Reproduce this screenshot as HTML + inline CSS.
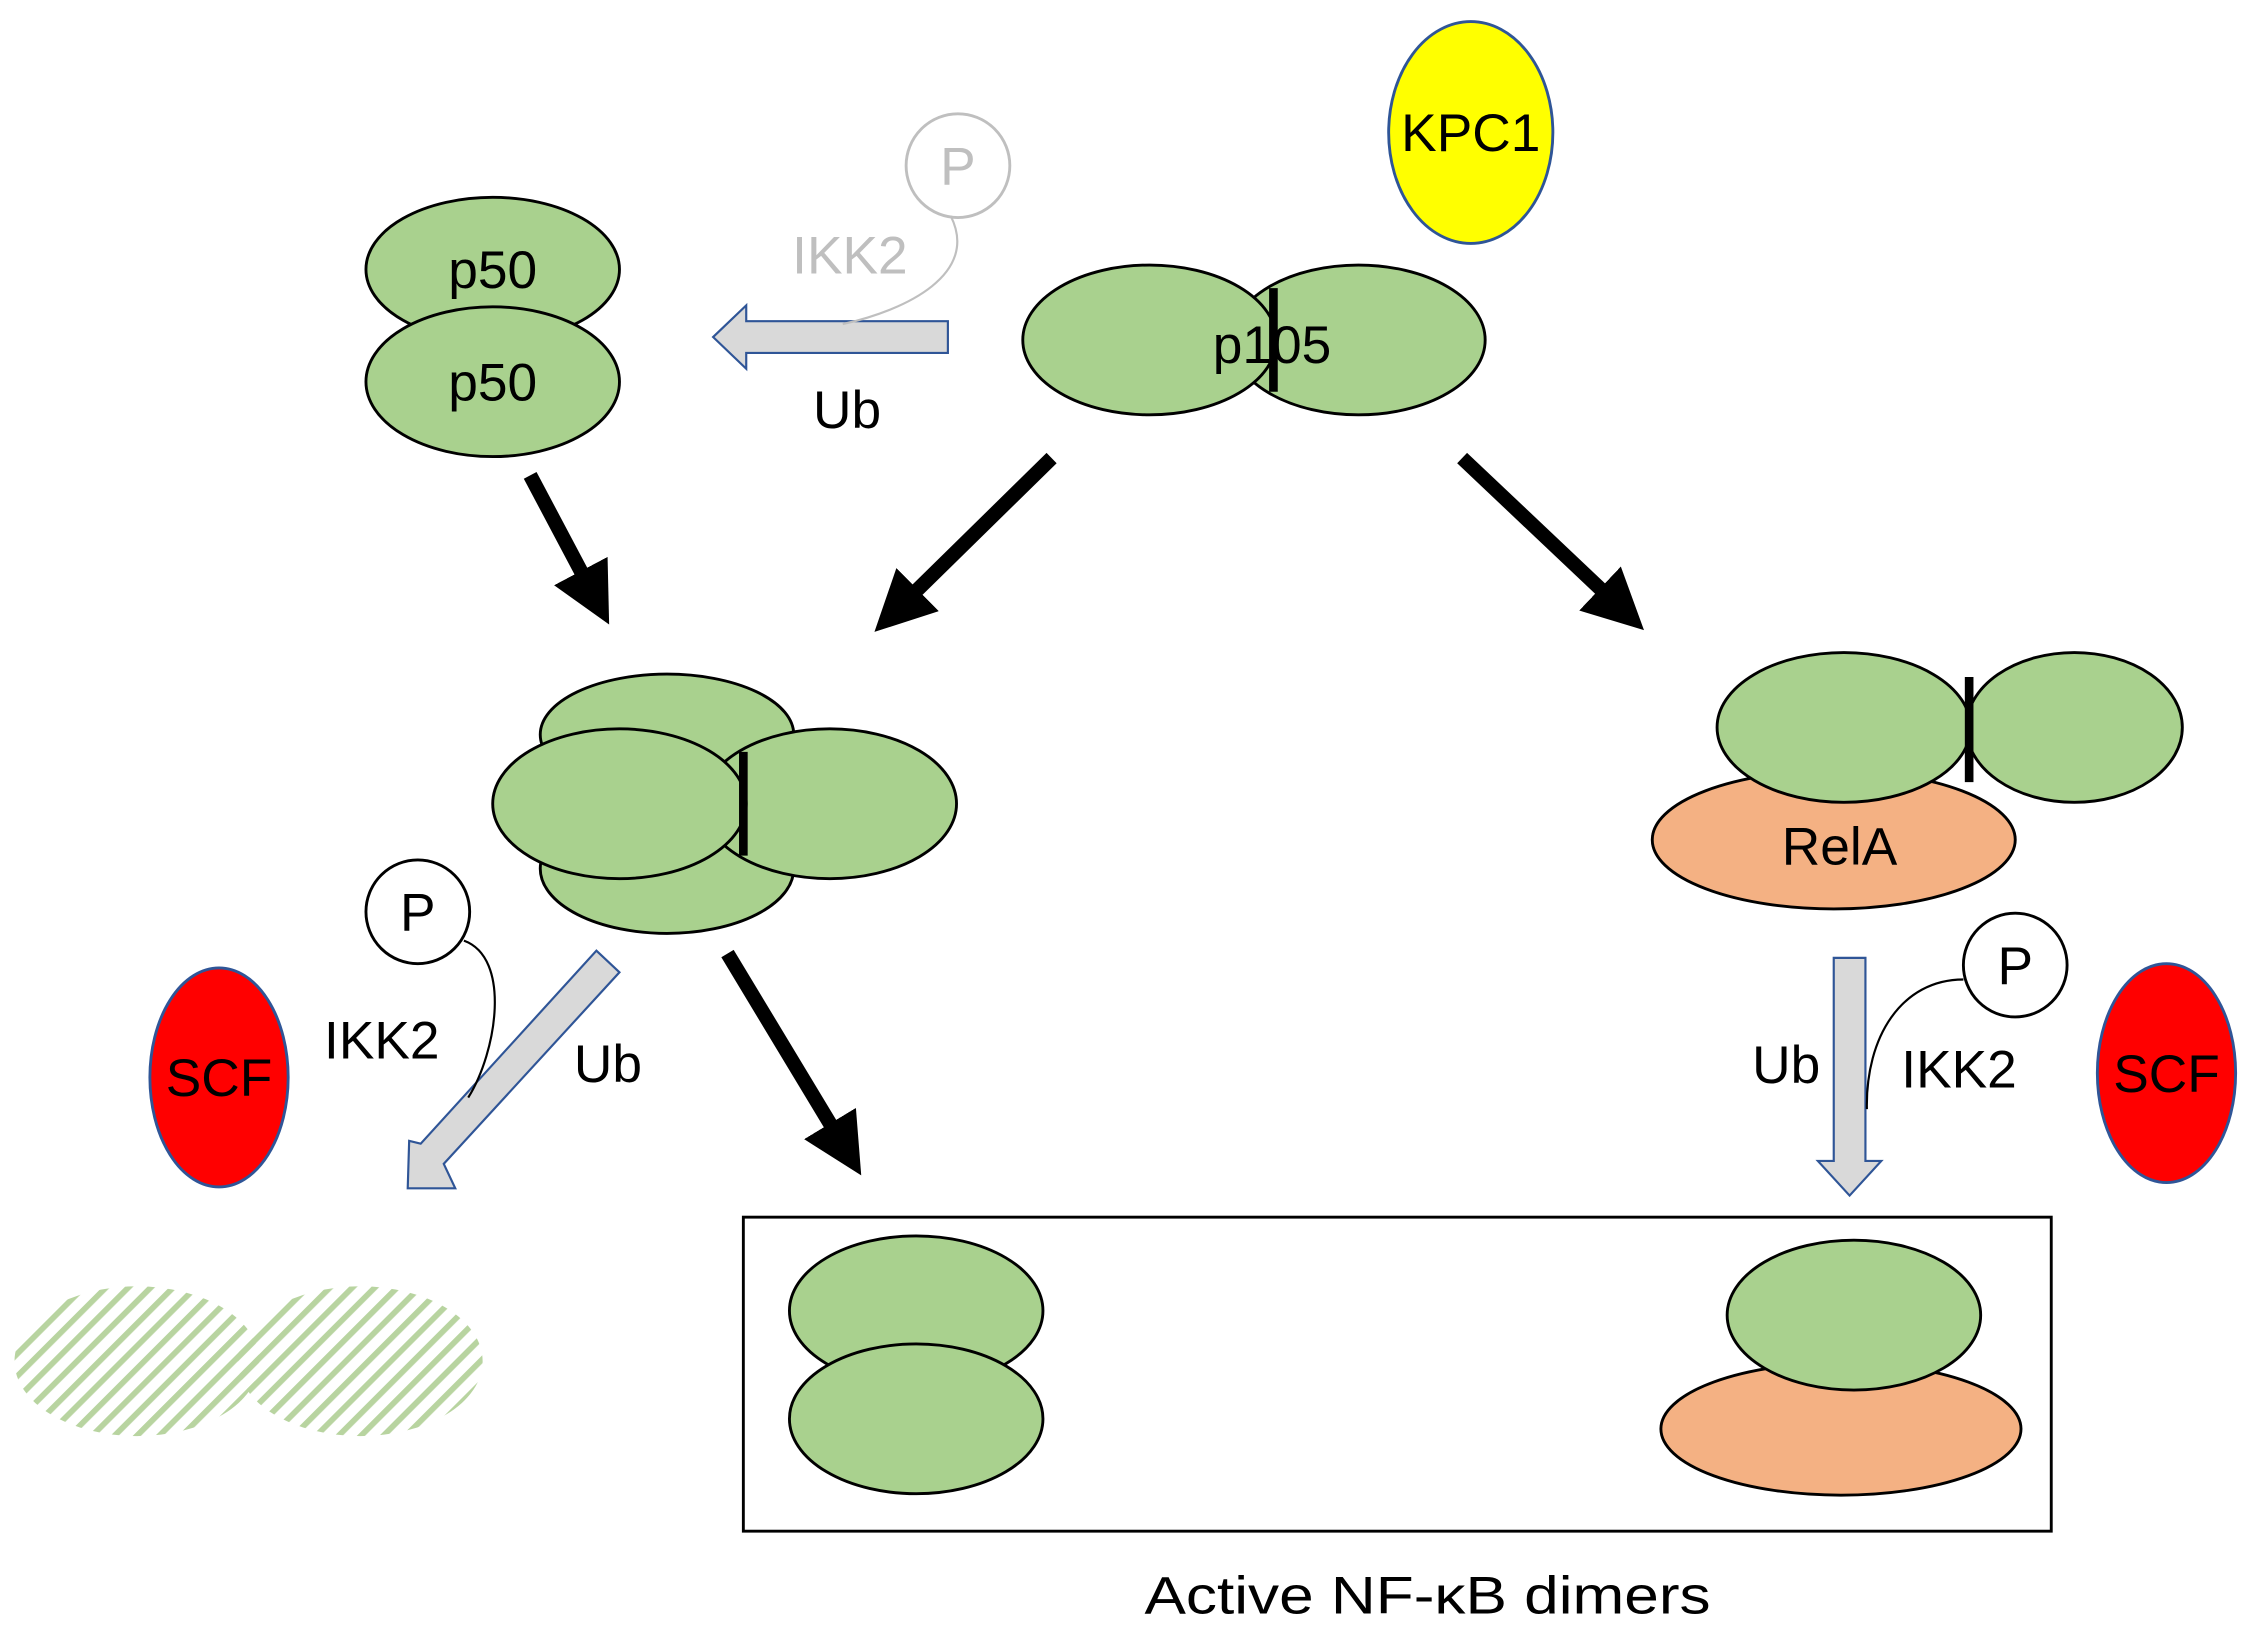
<!DOCTYPE html>
<html><head><meta charset="utf-8"><style>html,body{margin:0;padding:0;background:#fff}svg{display:block}</style></head><body>
<svg width="2253" height="1632" viewBox="0 0 1564 1133" xmlns="http://www.w3.org/2000/svg" font-family="Liberation Sans, sans-serif">
<defs>
<marker id="ah" markerWidth="4.2" markerHeight="4.2" refX="2.1" refY="2.1" orient="auto" markerUnits="strokeWidth"><path d="M0,0 L4.2,2.1 L0,4.2 z" fill="#000"/></marker>
<pattern id="hatch" width="11" height="11" patternUnits="userSpaceOnUse" patternTransform="rotate(-45)"><rect width="11" height="4" fill="#b8d4a0"/></pattern>
</defs>
<g stroke="#000" stroke-width="2" fill="#a9d18e">
<ellipse cx="342" cy="187" rx="88" ry="50"/>
<ellipse cx="342" cy="265" rx="88" ry="52"/>
<ellipse cx="943" cy="236" rx="88" ry="52"/>
<ellipse cx="798" cy="236" rx="88" ry="52"/>
<ellipse cx="463" cy="510" rx="88" ry="42"/>
<ellipse cx="463" cy="603" rx="88" ry="45"/>
<ellipse cx="576" cy="558" rx="88" ry="52"/>
<ellipse cx="430" cy="558" rx="88" ry="52"/>
<ellipse cx="1273" cy="583" rx="126" ry="48" fill="#f4b183"/>
<ellipse cx="1440" cy="505" rx="75" ry="52"/>
<ellipse cx="1280" cy="505" rx="88" ry="52"/>
<ellipse cx="636" cy="910" rx="88" ry="52"/>
<ellipse cx="636" cy="985" rx="88" ry="52"/>
<ellipse cx="1278" cy="992" rx="125" ry="46" fill="#f4b183"/>
<ellipse cx="1287" cy="913" rx="88" ry="52"/>
</g>
<g stroke="#000" stroke-width="6"><line x1="884" y1="200" x2="884" y2="272"/><line x1="516" y1="522" x2="516" y2="594"/><line x1="1367" y1="470" x2="1367" y2="543"/></g>
<ellipse cx="95" cy="945" rx="85" ry="52" fill="url(#hatch)"/>
<ellipse cx="250" cy="945" rx="85" ry="52" fill="url(#hatch)"/>
<ellipse cx="1021" cy="92" rx="57" ry="77" fill="#ffff00" stroke="#2f5597" stroke-width="2"/>
<ellipse cx="152" cy="748" rx="48" ry="76" fill="#ff0000" stroke="#2f5597" stroke-width="2"/>
<ellipse cx="1504" cy="745" rx="48" ry="76" fill="#ff0000" stroke="#2f5597" stroke-width="2"/>
<g stroke="#000" stroke-width="10" marker-end="url(#ah)">
<line x1="368" y1="330" x2="413" y2="415"/>
<line x1="730" y1="318" x2="622" y2="424"/>
<line x1="1015" y1="318" x2="1126" y2="423"/>
<line x1="505" y1="662" x2="587" y2="798"/>
</g>
<g fill="#d9d9d9" stroke="#2f5597" stroke-width="1.5">
<path d="M658,223 L518,223 L518,212 L495,234 L518,256 L518,245 L658,245 z"/>
<path d="M1273,665 L1295,665 L1295,806 L1306,806 L1284,830 L1262,806 L1273,806 z"/>
<path d="M414,660 L430,675 L308,808 L316,825 L283,825 L284,792 L292,794 z"/>
</g>
<circle cx="665" cy="115" r="36" fill="#fff" stroke="#bfbfbf" stroke-width="2"/>
<circle cx="290" cy="633" r="36" fill="#fff" stroke="#000" stroke-width="2"/>
<circle cx="1399" cy="670" r="36" fill="#fff" stroke="#000" stroke-width="2"/>
<g fill="none" stroke-width="1.5">
<path d="M660,150 C680,190 630,215 585,225" stroke="#bfbfbf"/>
<path d="M322,653 C355,665 345,730 325,762" stroke="#000"/>
<path d="M1363,680 C1320,680 1295,720 1296,770" stroke="#000"/>
</g>
<rect x="516" y="845" width="908" height="218" fill="none" stroke="#000" stroke-width="2"/>
<g font-size="37" text-anchor="middle" fill="#000">
<text x="1021" y="105">KPC1</text>
<text x="665" y="128" fill="#bfbfbf">P</text>
<text x="590" y="190" fill="#bfbfbf">IKK2</text>
<text x="342" y="200">p50</text>
<text x="342" y="278">p50</text>
<text x="883" y="252">p105</text>
<text x="588" y="297">Ub</text>
<text x="1277" y="600">RelA</text>
<text x="290" y="646">P</text>
<text x="265" y="735">IKK2</text>
<text x="422" y="751">Ub</text>
<text x="152" y="761">SCF</text>
<text x="1504" y="758">SCF</text>
<text x="1399" y="683">P</text>
<text x="1240" y="752">Ub</text>
<text x="1360" y="755">IKK2</text>
<text x="991" y="1120" textLength="393" lengthAdjust="spacingAndGlyphs">Active NF-κB dimers</text>
</g>
</svg>
</body></html>
